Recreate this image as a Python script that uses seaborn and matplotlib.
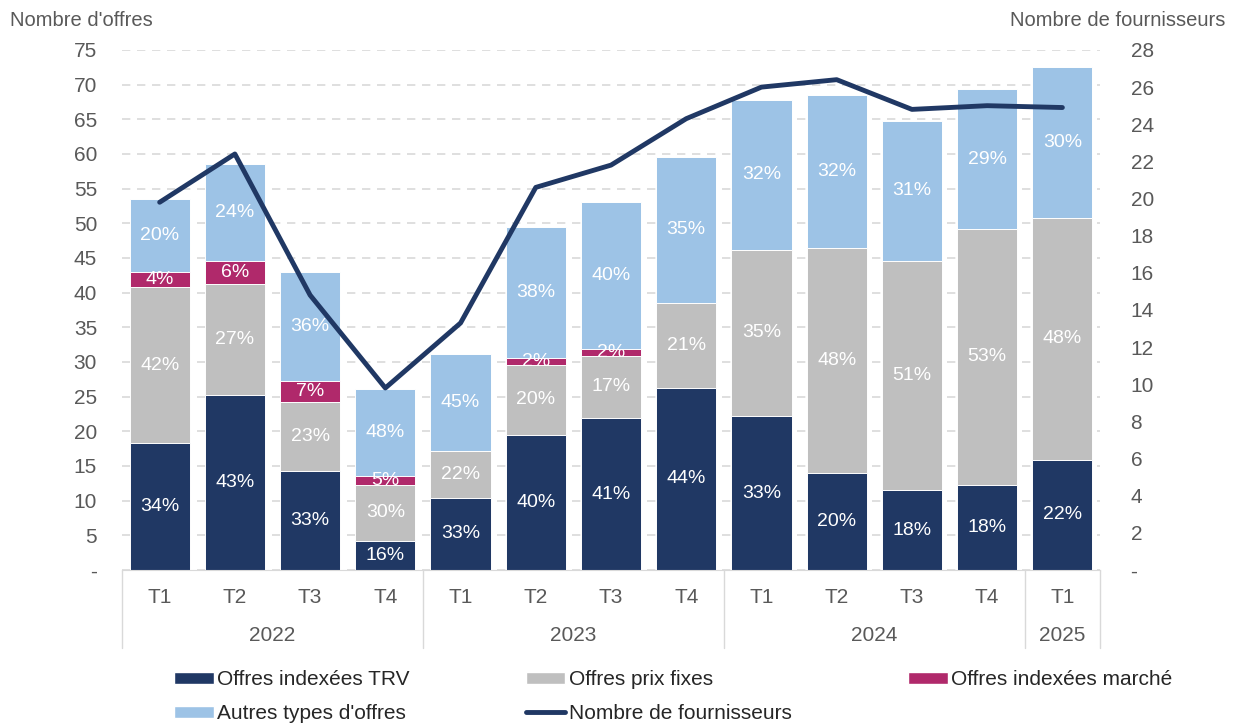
import numpy as np
import pandas as pd
import matplotlib
matplotlib.use("Agg")
import matplotlib.pyplot as plt
import seaborn as sns
from matplotlib.patches import Patch
from matplotlib.lines import Line2D
import matplotlib.transforms as mtransforms

# Données
trimestres = ["T1", "T2", "T3", "T4", "T1", "T2", "T3", "T4", "T1", "T2", "T3", "T4", "T1"]
annees = ["2022", "2023", "2024", "2025"]
nb_trim_par_annee = [4, 4, 4, 1]

offres_trv = [18.3, 25.3, 14.3, 4.2, 10.4, 19.5, 21.9, 26.3, 22.2, 14.0, 11.5, 12.3, 15.9]
offres_fixes = [22.5, 16.0, 9.9, 8.1, 6.8, 10.1, 9.0, 12.2, 24.0, 32.5, 33.1, 36.9, 34.9]
offres_marche = [2.2, 3.3, 3.1, 1.3, 0, 1.0, 1.0, 0, 0, 0, 0, 0, 0]
offres_autres = [10.5, 14.0, 15.7, 12.5, 14.0, 18.9, 21.2, 21.1, 21.6, 22.0, 20.2, 20.1, 21.8]

pct_trv = ["34%", "43%", "33%", "16%", "33%", "40%", "41%", "44%", "33%", "20%", "18%", "18%", "22%"]
pct_fixes = ["42%", "27%", "23%", "30%", "22%", "20%", "17%", "21%", "35%", "48%", "51%", "53%", "48%"]
pct_marche = ["4%", "6%", "7%", "5%", "", "2%", "2%", "", "", "", "", "", ""]
pct_autres = ["20%", "24%", "36%", "48%", "45%", "38%", "40%", "35%", "32%", "32%", "31%", "29%", "30%"]

fournisseurs = [19.8, 22.4, 14.8, 9.8, 13.3, 20.6, 21.8, 24.3, 26.0, 26.4, 24.8, 25.0, 24.9]

c_trv = "#203864"
c_fixes = "#BFBFBF"
c_marche = "#B0296B"
c_autres = "#9DC3E6"
c_texte = "#595959"

sns.set_style("white")
plt.rcParams["font.family"] = ["Liberation Sans", "DejaVu Sans"]

cles = [f"{i}" for i in range(len(trimestres))]
df = pd.DataFrame({
    "periode": cles,
    "trv": offres_trv,
    "fixes": offres_fixes,
    "marche": offres_marche,
    "autres": offres_autres,
})
df["c1"] = df["trv"]
df["c2"] = df["c1"] + df["fixes"]
df["c3"] = df["c2"] + df["marche"]
df["c4"] = df["c3"] + df["autres"]

fig = plt.figure(figsize=(12.34, 7.24), dpi=100)
ax = fig.add_axes([0.0989, 0.2127, 0.7925, 0.7183])

# barres empilées : cumul du plus haut au plus bas
for col, couleur in [("c4", c_autres), ("c3", c_marche), ("c2", c_fixes), ("c1", c_trv)]:
    sns.barplot(data=df, x="periode", y=col, color=couleur, saturation=1,
                width=0.8, edgecolor="white", linewidth=0.7, ax=ax)

# étiquettes de pourcentage
segments = [("c1", "trv", pct_trv), ("c2", "fixes", pct_fixes),
            ("c3", "marche", pct_marche), ("c4", "autres", pct_autres)]
for col, seg, labels in segments:
    for i, lab in enumerate(labels):
        if lab:
            y = df[col][i] - df[seg][i] / 2
            ax.text(i, y, lab, ha="center", va="center", color="white", fontsize=14)

ax.set_ylim(0, 75)
ax.set_xlim(-0.5, 12.5)
ax.set_yticks(range(0, 76, 5))
ax.set_yticklabels(["-"] + [str(v) for v in range(5, 76, 5)])
ax.yaxis.grid(True, linestyle=(0, (5, 4)), color="#D9D9D9", linewidth=1.2)
ax.set_axisbelow(True)
ax.set_xlabel("")
ax.set_ylabel("")
ax.set_xticks(range(len(trimestres)))
ax.set_xticklabels(trimestres)
ax.tick_params(axis="x", length=0, pad=13, labelsize=15, labelcolor=c_texte)
ax.tick_params(axis="y", length=0, pad=18, labelsize=15, labelcolor=c_texte)
for s in ["top", "left", "right"]:
    ax.spines[s].set_visible(False)
ax.spines["bottom"].set_color("#D9D9D9")

# axe secondaire : nombre de fournisseurs
ax2 = ax.twinx()
sns.lineplot(x=np.arange(len(fournisseurs)), y=fournisseurs, ax=ax2,
             color=c_trv, linewidth=3.5)
ax2.set_ylim(0, 28)
ax2.set_xlim(-0.5, 12.5)
ax2.set_yticks(range(0, 29, 2))
ax2.set_yticklabels(["-"] + [str(v) for v in range(2, 29, 2)])
ax2.tick_params(axis="y", length=0, pad=22, labelsize=15, labelcolor=c_texte)
for s in ["top", "left", "right", "bottom"]:
    ax2.spines[s].set_visible(False)

# séparateurs et années sous l'axe
trans = mtransforms.blended_transform_factory(ax.transData, ax.transAxes)
bords = [-0.5]
for n in nb_trim_par_annee:
    bords.append(bords[-1] + n)
for b in bords:
    ax.plot([b, b], [0, -0.15], transform=trans, color="#D9D9D9", linewidth=1, clip_on=False)
for k, an in enumerate(annees):
    xc = (bords[k] + bords[k + 1]) / 2
    ax.text(xc, -0.125, an, transform=trans, ha="center", va="center",
            fontsize=15, color=c_texte)

fig.text(0.008, 0.972, "Nombre d'offres", fontsize=14.5, color=c_texte, ha="left", va="center")
fig.text(0.993, 0.972, "Nombre de fournisseurs", fontsize=14.5, color=c_texte, ha="right", va="center")

handles = [
    Patch(facecolor=c_trv, label="Offres indexées TRV"),
    Patch(facecolor=c_autres, label="Autres types d'offres"),
    Patch(facecolor=c_fixes, label="Offres prix fixes"),
    Line2D([0], [0], color=c_trv, linewidth=3.5, label="Nombre de fournisseurs"),
    Patch(facecolor=c_marche, label="Offres indexées marché"),
]
fig.legend(handles=handles, ncol=3, loc="upper left", bbox_to_anchor=(0.141, 0.074),
           frameon=False, fontsize=15, handlelength=1.9, handleheight=0.5,
           handletextpad=0.15, columnspacing=5.6, labelspacing=0.7,
           borderaxespad=0, borderpad=0)

fig.savefig("out.png", dpi=100)
